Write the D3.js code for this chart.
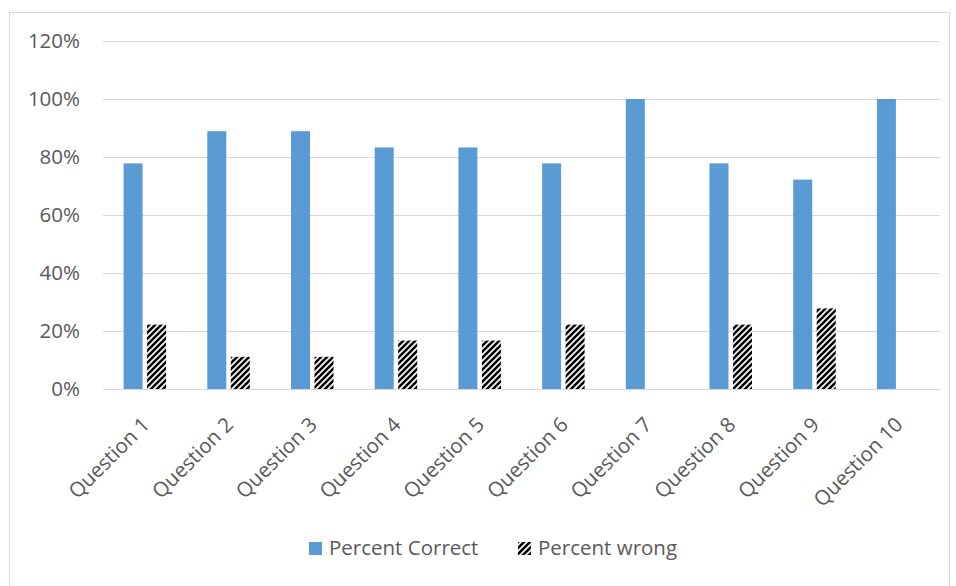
<!DOCTYPE html>
<html>
<head>
<meta charset="utf-8">
<script src="https://cdn.jsdelivr.net/npm/d3@7"></script>
<style>
  html, body { margin: 0; padding: 0; background: #fff; }
  svg { display: block; font-family: "Open Sans", "Noto Sans", sans-serif; }
</style>
</head>
<body>
<svg id="chart" width="956" height="586"></svg>
<script>
const categories = ["Question 1", "Question 2", "Question 3", "Question 4", "Question 5",
                    "Question 6", "Question 7", "Question 8", "Question 9", "Question 10"];
const percentCorrect = [77.8, 88.9, 88.9, 83.3, 83.3, 77.8, 100, 77.8, 72.2, 100];
const percentWrong   = [22.2, 11.1, 11.1, 16.7, 16.7, 22.2, 0, 22.2, 27.8, 0];
const yTicks = [0, 20, 40, 60, 80, 100, 120];
const seriesNames = ["Percent Correct", "Percent wrong"];

const svg = d3.select("#chart");
const textColor = "#595959";
const fontSize = "20.5px";

// outer chart frame
svg.append("rect")
  .attr("x", 9.5).attr("y", 12.5).attr("width", 940).attr("height", 580)
  .attr("fill", "none").attr("stroke", "#d9d9d9").attr("stroke-width", 1);

// wide upward diagonal hatch
const defs = svg.append("defs");
const pat = defs.append("pattern")
  .attr("id", "hatch").attr("patternUnits", "userSpaceOnUse")
  .attr("width", 6).attr("height", 6);
pat.append("rect").attr("width", 6).attr("height", 6).attr("fill", "#fff");
pat.append("path")
  .attr("d", "M-2,2 L2,-2 M0,6 L6,0 M4,8 L8,4")
  .attr("stroke", "#000").attr("stroke-width", 2.6);

const plot = { left: 103, right: 940, top: 41, bottom: 389 };

const x = d3.scaleBand().domain(categories).range([plot.left, plot.right]);
const y = d3.scaleLinear().domain([0, 120]).range([plot.bottom, plot.top]);

// gridlines
svg.append("g").selectAll("line").data(yTicks).join("line")
  .attr("x1", plot.left).attr("x2", plot.right)
  .attr("y1", d => Math.round(y(d)) + 0.5).attr("y2", d => Math.round(y(d)) + 0.5)
  .attr("stroke", "#d9d9d9").attr("stroke-width", 1);

// y axis labels
const yAxis = d3.axisLeft(y).tickValues(yTicks).tickFormat(d => d + "%").tickSize(0).tickPadding(0);
const gy = svg.append("g").attr("transform", `translate(80,0)`).call(yAxis);
gy.select(".domain").remove();
gy.selectAll("text").attr("fill", textColor).style("font-size", fontSize)
  .attr("font-family", "Open Sans, Noto Sans, sans-serif");

// bars
const barW = 19, offset = 11.75;
svg.append("g").selectAll("rect").data(categories).join("rect")
  .attr("x", d => x(d) + x.bandwidth() / 2 - offset - barW / 2)
  .attr("y", (d, i) => y(percentCorrect[i]))
  .attr("width", barW)
  .attr("height", (d, i) => y(0) - y(percentCorrect[i]))
  .attr("fill", "#5b9bd5");

svg.append("g").selectAll("rect").data(categories).join("rect")
  .attr("x", d => x(d) + x.bandwidth() / 2 + offset - barW / 2)
  .attr("y", (d, i) => y(percentWrong[i]))
  .attr("width", barW)
  .attr("height", (d, i) => y(0) - y(percentWrong[i]))
  .attr("fill", "url(#hatch)");

// x axis labels, rotated
const xAxis = d3.axisBottom(x).tickSize(0).tickPadding(0);
const gx = svg.append("g").attr("transform", `translate(0,${plot.bottom})`).call(xAxis);
gx.select(".domain").remove();
gx.selectAll("text")
  .attr("fill", textColor).style("font-size", fontSize)
  .attr("font-family", "Open Sans, Noto Sans, sans-serif")
  .attr("text-anchor", "end")
  .attr("y", 0).attr("dy", 0)
  .attr("transform", "translate(6,37) rotate(-45)");

// legend
const legend = svg.append("g").attr("transform", "translate(309,548)");
const items = [
  { name: seriesNames[0], fill: "#5b9bd5", dx: 0 },
  { name: seriesNames[1], fill: "url(#hatch)", dx: 209 }
];
const li = legend.selectAll("g").data(items).join("g")
  .attr("transform", d => `translate(${d.dx},0)`);
li.append("rect").attr("x", 0).attr("y", -6).attr("width", 13).attr("height", 13)
  .attr("fill", d => d.fill);
li.append("text").attr("x", 20).attr("y", 0).attr("dy", "0.35em")
  .attr("fill", textColor).style("font-size", fontSize).text(d => d.name);
</script>
</body>
</html>
